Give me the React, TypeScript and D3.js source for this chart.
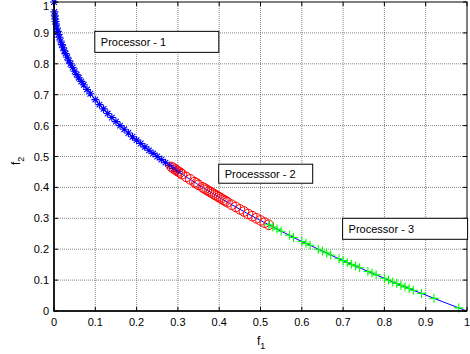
import React, { useEffect, useRef } from "react";
import * as d3 from "d3";

// Processor 1 (blue asterisks)
const p1F1 = [0, 0.001, 0.002, 0.003, 0.004, 0.005, 0.007, 0.009, 0.011, 0.013, 0.016, 0.019, 0.022, 0.025, 0.028, 0.032, 0.036, 0.04, 0.045, 0.05, 0.055, 0.06, 0.066, 0.072, 0.08, 0.088, 0.1, 0.11, 0.12, 0.13, 0.14, 0.15, 0.16, 0.17, 0.18, 0.19, 0.2, 0.21, 0.22, 0.23, 0.24, 0.25, 0.26, 0.27, 0.28, 0.29, 0.3];
const p1F2 = [1, 0.968, 0.955, 0.945, 0.937, 0.929, 0.916, 0.905, 0.895, 0.886, 0.874, 0.862, 0.852, 0.842, 0.833, 0.821, 0.81, 0.8, 0.788, 0.776, 0.765, 0.755, 0.743, 0.732, 0.717, 0.703, 0.684, 0.668, 0.654, 0.639, 0.626, 0.613, 0.6, 0.588, 0.576, 0.564, 0.553, 0.542, 0.531, 0.52, 0.51, 0.5, 0.49, 0.48, 0.471, 0.461, 0.452];

// Processor 2 (red circles)
const p2F1 = [0.285, 0.29, 0.295, 0.3, 0.305, 0.31, 0.32, 0.33, 0.34, 0.345, 0.35, 0.36, 0.365, 0.37, 0.375, 0.38, 0.385, 0.39, 0.395, 0.4, 0.405, 0.41, 0.415, 0.42, 0.43, 0.44, 0.45, 0.46, 0.47, 0.48, 0.49, 0.5, 0.51, 0.52];
const p2F2 = [0.466, 0.461, 0.457, 0.452, 0.448, 0.443, 0.434, 0.426, 0.417, 0.413, 0.408, 0.4, 0.396, 0.392, 0.388, 0.384, 0.38, 0.376, 0.372, 0.368, 0.364, 0.36, 0.356, 0.352, 0.344, 0.337, 0.329, 0.322, 0.314, 0.307, 0.3, 0.293, 0.286, 0.279];

// Processor 3 (green plus)
const p3F1 = [0.52, 0.53, 0.54, 0.55, 0.57, 0.58, 0.6, 0.61, 0.62, 0.64, 0.65, 0.66, 0.67, 0.69, 0.7, 0.71, 0.72, 0.73, 0.74, 0.76, 0.77, 0.78, 0.8, 0.81, 0.82, 0.83, 0.84, 0.85, 0.86, 0.87, 0.89, 0.92, 0.98];
const p3F2 = [0.279, 0.272, 0.265, 0.258, 0.245, 0.238, 0.225, 0.219, 0.213, 0.2, 0.194, 0.188, 0.181, 0.169, 0.163, 0.157, 0.151, 0.146, 0.14, 0.128, 0.123, 0.117, 0.106, 0.1, 0.094, 0.089, 0.083, 0.078, 0.073, 0.067, 0.057, 0.041, 0.01];

// end point of the front
const endF1 = [1];
const endF2 = [0];

const ticks = [0, 0.1, 0.2, 0.3, 0.4, 0.5, 0.6, 0.7, 0.8, 0.9, 1];
const tickLabels = ["0", "0.1", "0.2", "0.3", "0.4", "0.5", "0.6", "0.7", "0.8", "0.9", "1"];

const boxes = [
  { text: "Processor - 1", f1: 0.1, f2: 0.905, w: 124, h: 21 },
  { text: "Processsor - 2", f1: 0.4, f2: 0.475, w: 94, h: 19 },
  { text: "Processor - 3", f1: 0.7, f2: 0.3, w: 125, h: 21 },
];

export default function App() {
  const ref = useRef<SVGGElement>(null);
  const left = 54, right = 467, top = 2, bottom = 311;

  useEffect(() => {
    const g = d3.select(ref.current);
    g.selectAll("*").remove();
    const x = d3.scaleLinear().domain([0, 1]).range([left, right]);
    const y = d3.scaleLinear().domain([0, 1]).range([bottom, top]);
    const font = "Liberation Sans, Arial, sans-serif";

    // grid
    ticks.slice(1, -1).forEach((t) => {
      g.append("line").attr("x1", x(t)).attr("x2", x(t)).attr("y1", top).attr("y2", bottom)
        .attr("stroke", "#666").attr("stroke-width", 0.8).attr("stroke-dasharray", "1,1");
      g.append("line").attr("x1", left).attr("x2", right).attr("y1", y(t)).attr("y2", y(t))
        .attr("stroke", "#666").attr("stroke-width", 0.8).attr("stroke-dasharray", "1,1");
    });

    // front line
    const pts: [number, number][] = [];
    p1F1.forEach((v, i) => pts.push([v, p1F2[i]]));
    p2F1.forEach((v, i) => pts.push([v, p2F2[i]]));
    p3F1.forEach((v, i) => pts.push([v, p3F2[i]]));
    endF1.forEach((v, i) => pts.push([v, endF2[i]]));
    pts.sort((a, b) => a[0] - b[0]);
    g.append("path")
      .datum(pts)
      .attr("fill", "none")
      .attr("stroke", "#0000ff")
      .attr("stroke-width", 1)
      .attr("d", d3.line<[number, number]>().x((d) => x(d[0])).y((d) => y(d[1])));

    // blue asterisks
    const s = 4;
    p1F1.forEach((v, i) => {
      const cx = x(v), cy = y(p1F2[i]);
      g.append("path")
        .attr("d", `M${cx - s},${cy}H${cx + s}M${cx},${cy - s}V${cy + s}M${cx - s * 0.7},${cy - s * 0.7}L${cx + s * 0.7},${cy + s * 0.7}M${cx - s * 0.7},${cy + s * 0.7}L${cx + s * 0.7},${cy - s * 0.7}`)
        .attr("stroke", "#0000ff").attr("stroke-width", 1.1).attr("fill", "none");
    });

    // red circles
    p2F1.forEach((v, i) => {
      g.append("circle").attr("cx", x(v)).attr("cy", y(p2F2[i])).attr("r", 4.8)
        .attr("fill", "none").attr("stroke", "#ff0000").attr("stroke-width", 1);
    });

    // green plus
    const p = 4.5;
    p3F1.forEach((v, i) => {
      const cx = x(v), cy = y(p3F2[i]);
      g.append("path")
        .attr("d", `M${cx - p},${cy}H${cx + p}M${cx},${cy - p}V${cy + p}`)
        .attr("stroke", "#00ff00").attr("stroke-width", 1.1).attr("fill", "none");
    });

    // axes box
    g.append("rect").attr("x", left).attr("y", top).attr("width", right - left).attr("height", bottom - top)
      .attr("fill", "none").attr("stroke", "#000").attr("stroke-width", 1);
    g.append("path").attr("d", `M${left},${top}V${bottom}H${right}`)
      .attr("fill", "none").attr("stroke", "#000").attr("stroke-width", 1.5);

    // ticks
    ticks.forEach((t, i) => {
      g.append("line").attr("x1", x(t)).attr("x2", x(t)).attr("y1", bottom).attr("y2", bottom - 4).attr("stroke", "#000");
      g.append("line").attr("x1", x(t)).attr("x2", x(t)).attr("y1", top).attr("y2", top + 4).attr("stroke", "#000");
      g.append("line").attr("x1", left).attr("x2", left + 4).attr("y1", y(t)).attr("y2", y(t)).attr("stroke", "#000");
      g.append("line").attr("x1", right).attr("x2", right - 4).attr("y1", y(t)).attr("y2", y(t)).attr("stroke", "#000");
      g.append("text").attr("x", x(t)).attr("y", bottom + 15).attr("text-anchor", "middle")
        .attr("font-family", font).attr("font-size", 11).text(tickLabels[i]);
      g.append("text").attr("x", left - 5).attr("y", Math.max(y(t) + 4, 10)).attr("text-anchor", "end")
        .attr("font-family", font).attr("font-size", 11).text(tickLabels[i]);
    });

    // axis labels
    const xl = g.append("text").attr("x", 257).attr("y", 345).attr("font-family", font).attr("font-size", 12);
    xl.append("tspan").text("f");
    xl.append("tspan").attr("font-size", 9).attr("dy", 4).text("1");
    const yl = g.append("text").attr("transform", "translate(20,165) rotate(-90)").attr("font-family", font).attr("font-size", 12);
    yl.append("tspan").text("f");
    yl.append("tspan").attr("font-size", 9).attr("dy", 4).text("2");

    // text boxes
    boxes.forEach((b) => {
      const bx = x(b.f1) - 0.5, by = y(b.f2);
      g.append("rect").attr("x", bx).attr("y", by).attr("width", b.w).attr("height", b.h)
        .attr("fill", "#fff").attr("stroke", "#000").attr("stroke-width", 1);
      g.append("text").attr("x", bx + 6).attr("y", by + b.h / 2 + 4).attr("font-family", font)
        .attr("font-size", 11).text(b.text);
    });
  }, []);

  return (
    <svg width={470} height={354} style={{ position: "absolute", left: 0, top: 0, background: "#fff" }}>
      <g ref={ref} />
    </svg>
  );
}
